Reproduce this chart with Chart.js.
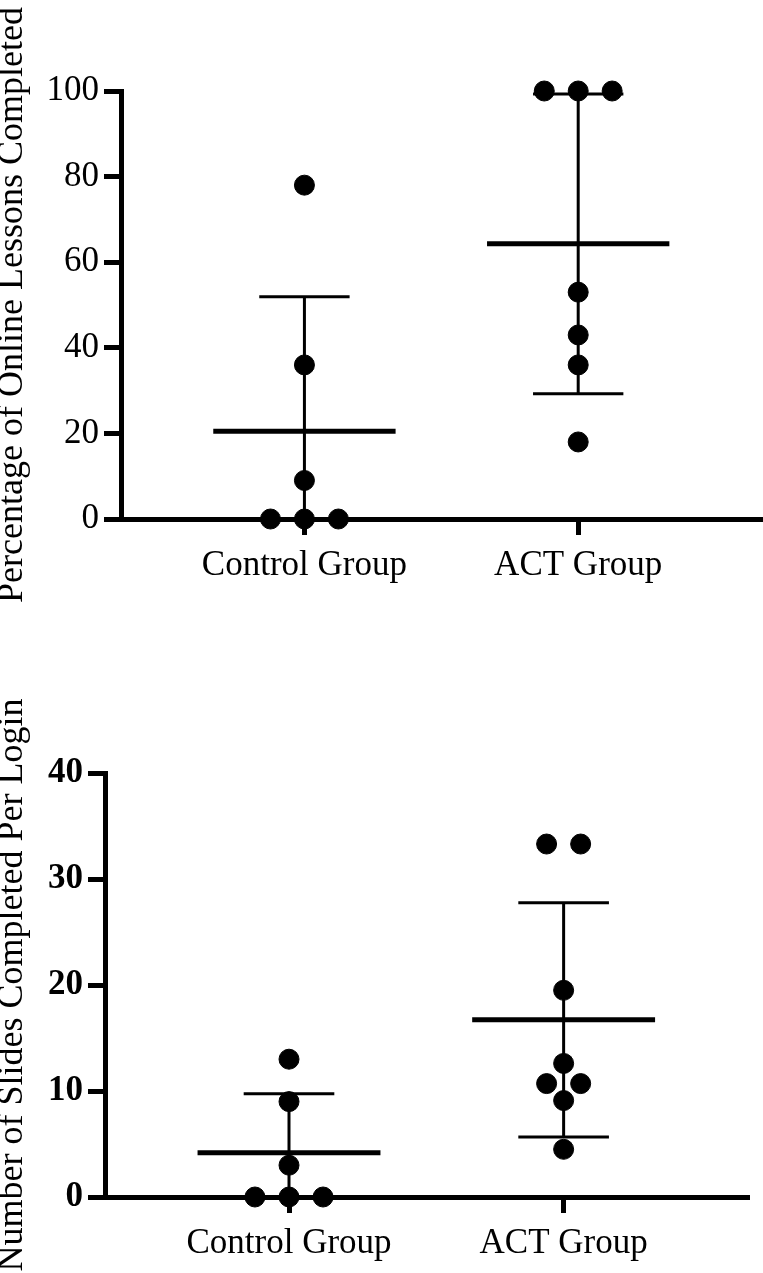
<!DOCTYPE html>
<html>
<head>
<meta charset="utf-8">
<script src="https://cdn.jsdelivr.net/npm/chart.js@4.4.1/dist/chart.umd.min.js"></script>
<style>
  body { margin: 0; background: #fff; }
  #lessons-chart { position: absolute; left: 0; top: 0; }
  #slides-chart { position: absolute; left: 0; top: 640px; }
</style>
</head>
<body>
<canvas id="lessons-chart" width="763" height="620"></canvas>
<canvas id="slides-chart" width="763" height="633"></canvas>
<script>
const categories = ['Control Group', 'ACT Group'];

const lessonsControl = [78, 36, 9, 0, 0, 0];
const lessonsAct = [100, 100, 100, 53, 43, 36, 18];
const lessonTicks = [0, 20, 40, 60, 80, 100];

const slidesControl = [13, 9, 3, 0, 0, 0];
const slidesAct = [33.3, 33.3, 19.5, 12.6, 10.7, 10.7, 9.1, 4.5];
const slideTicks = [0, 10, 20, 30, 40];

Chart.defaults.font.family = "'Liberation Serif', 'Times New Roman', serif";
Chart.defaults.color = '#000';

function mean(a) {
  return a.reduce((s, v) => s + v, 0) / a.length;
}

function sd(a) {
  const m = mean(a);
  return Math.sqrt(a.reduce((s, v) => s + (v - m) * (v - m), 0) / (a.length - 1));
}

// spread tied values sideways, like a dot plot
function dots(values, xc) {
  const counts = {};
  const seen = {};
  values.forEach(v => counts[v] = (counts[v] || 0) + 1);
  return values.map(v => {
    seen[v] = seen[v] === undefined ? 0 : seen[v] + 1;
    return {x: xc + (seen[v] - (counts[v] - 1) / 2) * 0.124, y: v};
  });
}

function seg(data, width) {
  return {
    type: 'line',
    data: data,
    borderColor: '#000',
    borderWidth: width,
    pointRadius: 0,
    fill: false,
    tension: 0
  };
}

// mean line plus SD whiskers
function summary(values, xc) {
  const m = mean(values);
  const s = sd(values);
  return [
    seg([{x: xc - 0.333, y: m}, {x: xc + 0.333, y: m}], 5),
    seg([{x: xc, y: m - s}, {x: xc, y: m + s}], 3),
    seg([{x: xc - 0.165, y: m + s}, {x: xc + 0.165, y: m + s}], 3),
    seg([{x: xc - 0.165, y: m - s}, {x: xc + 0.165, y: m - s}], 3)
  ];
}

function makeChart(id, control, act, ticks, title, bold, yWidth, xHeight, padding) {
  const datasets = [];
  [control, act].forEach((values, i) => {
    datasets.push({
      data: dots(values, i + 1),
      backgroundColor: '#000',
      borderColor: '#000',
      pointRadius: 10,
      pointHoverRadius: 10,
      clip: false
    });
    summary(values, i + 1).forEach(d => datasets.push(d));
  });

  return new Chart(document.getElementById(id), {
    type: 'scatter',
    data: {datasets: datasets},
    options: {
      responsive: false,
      animation: false,
      events: [],
      layout: {padding: padding, autoPadding: false},
      plugins: {legend: {display: false}, tooltip: {enabled: false}},
      scales: {
        x: {
          type: 'linear',
          min: 0.33,
          max: 2.675,
          afterBuildTicks: s => { s.ticks = [1, 2].map(v => ({value: v})); },
          afterFit: s => { s.height = xHeight; s.paddingLeft = 0; s.paddingRight = 0; },
          ticks: {
            callback: v => categories[v - 1],
            font: {size: 35},
            maxRotation: 0,
            autoSkip: false,
            padding: 10
          },
          grid: {drawOnChartArea: false, tickLength: 16, tickWidth: 5, tickColor: '#000'},
          border: {color: '#000', width: 5}
        },
        y: {
          min: ticks[0],
          max: ticks[ticks.length - 1],
          afterBuildTicks: s => { s.ticks = ticks.map(v => ({value: v})); },
          afterFit: s => { s.width = yWidth; },
          ticks: {
            font: {size: 35, weight: bold ? 'bold' : 'normal'},
            padding: 5
          },
          grid: {drawOnChartArea: false, tickLength: 17, tickWidth: 5, tickColor: '#000'},
          border: {color: '#000', width: 5},
          title: {
            display: true,
            text: title,
            font: {size: 36, lineHeight: 0.72},
            padding: 0
          }
        }
      }
    }
  });
}

makeChart('lessons-chart', lessonsControl, lessonsAct, lessonTicks,
  'Percentage of Online Lessons Completed', false, 121, 101, {top: 91, right: 0});
makeChart('slides-chart', slidesControl, slidesAct, slideTicks,
  'Number of Slides Completed Per Login', true, 105, 76, {top: 133, right: 14});
</script>
</body>
</html>
